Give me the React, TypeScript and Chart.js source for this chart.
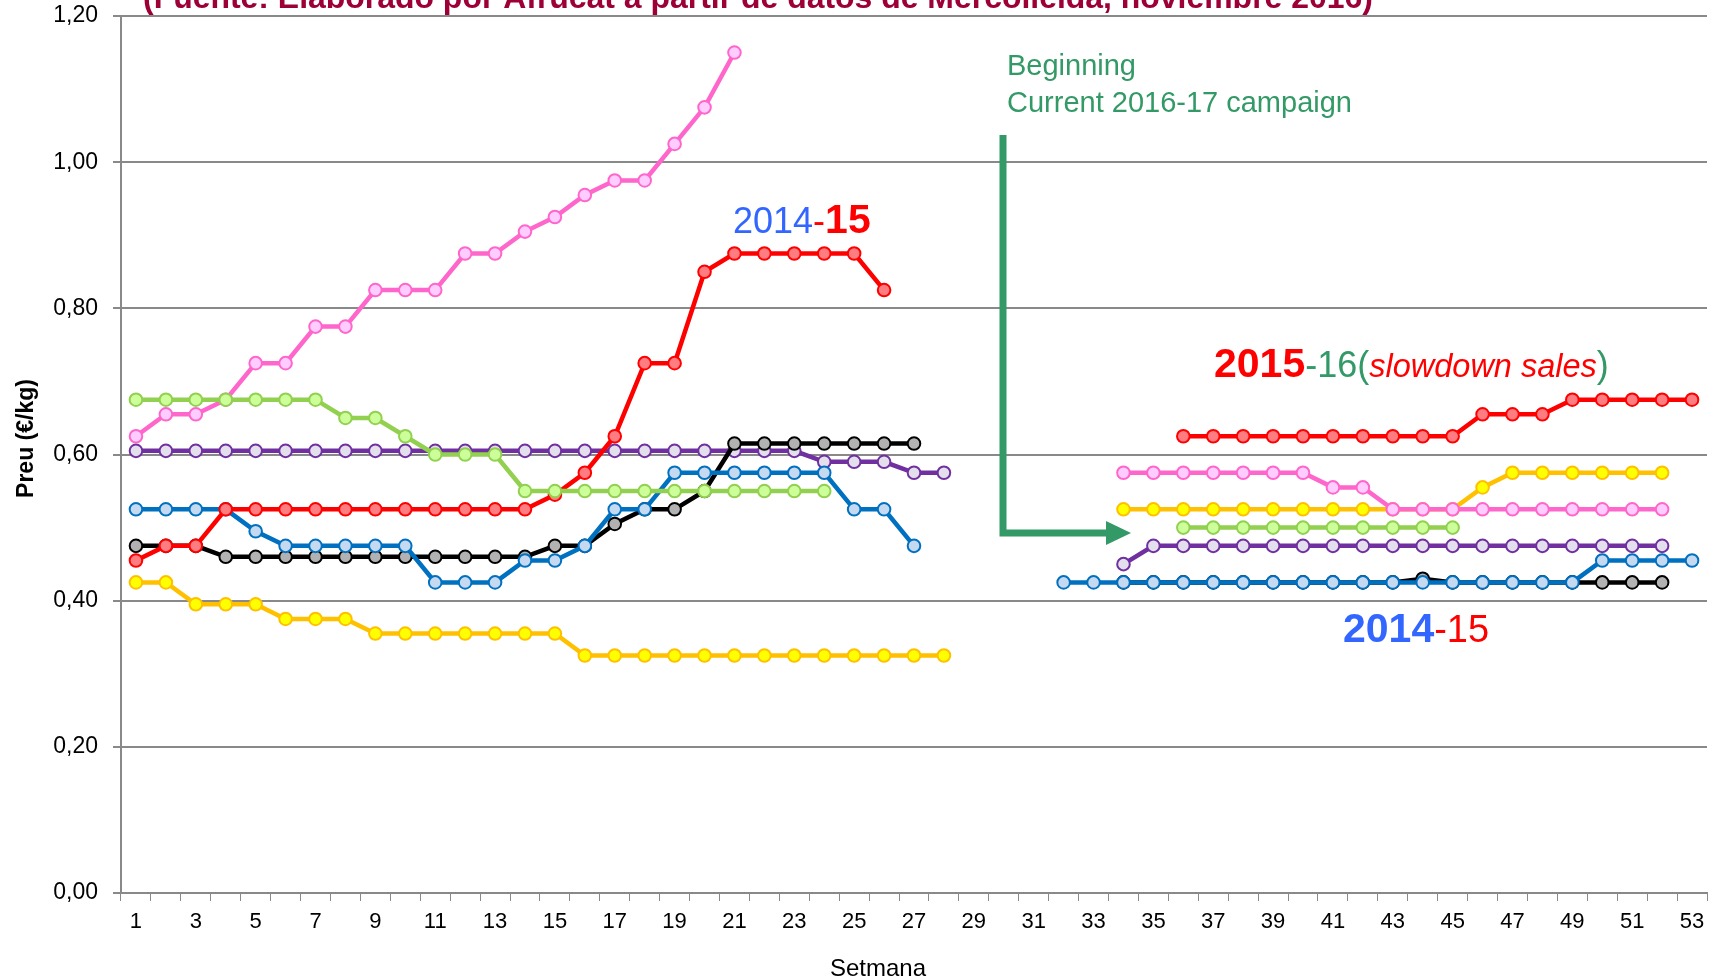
import React, { useEffect, useRef } from "react";
import { Chart, registerables } from "chart.js";

Chart.register(...registerables);

const FONT = '"Liberation Sans", Arial, Helvetica, sans-serif';

// Category axis: weeks
const weekLabels = [
  "1", "2", "3", "4", "5", "6", "7", "8", "9", "10",
  "11", "12", "13", "14", "15", "16", "17", "18", "19", "20",
  "21", "22", "23", "24", "25", "26", "27", "28", "29", "30",
  "31", "32", "33", "34", "35", "36", "37", "38", "39", "40",
  "41", "42", "43", "44", "45", "46", "47", "48", "49", "50",
  "51", "52", "53",
];

// Series values (€/kg). Each series: first part starting week 1, second part with its start week.
const pinkFirst = [0.625, 0.655, 0.655, 0.675, 0.725, 0.725, 0.775, 0.775, 0.825, 0.825, 0.825, 0.875, 0.875, 0.905, 0.925, 0.955, 0.975, 0.975, 1.025, 1.075, 1.15];
const pinkSecondStart = 34;
const pinkSecond = [0.575, 0.575, 0.575, 0.575, 0.575, 0.575, 0.575, 0.555, 0.555, 0.525, 0.525, 0.525, 0.525, 0.525, 0.525, 0.525, 0.525, 0.525, 0.525];

const redFirst = [0.455, 0.475, 0.475, 0.525, 0.525, 0.525, 0.525, 0.525, 0.525, 0.525, 0.525, 0.525, 0.525, 0.525, 0.545, 0.575, 0.625, 0.725, 0.725, 0.85, 0.875, 0.875, 0.875, 0.875, 0.875, 0.825];
const redSecondStart = 36;
const redSecond = [0.625, 0.625, 0.625, 0.625, 0.625, 0.625, 0.625, 0.625, 0.625, 0.625, 0.655, 0.655, 0.655, 0.675, 0.675, 0.675, 0.675, 0.675];

const greenFirst = [0.675, 0.675, 0.675, 0.675, 0.675, 0.675, 0.675, 0.65, 0.65, 0.625, 0.6, 0.6, 0.6, 0.55, 0.55, 0.55, 0.55, 0.55, 0.55, 0.55, 0.55, 0.55, 0.55, 0.55];
const greenSecondStart = 36;
const greenSecond = [0.5, 0.5, 0.5, 0.5, 0.5, 0.5, 0.5, 0.5, 0.5, 0.5];

const purpleFirst = [0.605, 0.605, 0.605, 0.605, 0.605, 0.605, 0.605, 0.605, 0.605, 0.605, 0.605, 0.605, 0.605, 0.605, 0.605, 0.605, 0.605, 0.605, 0.605, 0.605, 0.605, 0.605, 0.605, 0.59, 0.59, 0.59, 0.575, 0.575];
const purpleSecondStart = 34;
const purpleSecond = [0.45, 0.475, 0.475, 0.475, 0.475, 0.475, 0.475, 0.475, 0.475, 0.475, 0.475, 0.475, 0.475, 0.475, 0.475, 0.475, 0.475, 0.475, 0.475];

const blueFirst = [0.525, 0.525, 0.525, 0.525, 0.495, 0.475, 0.475, 0.475, 0.475, 0.475, 0.425, 0.425, 0.425, 0.455, 0.455, 0.475, 0.525, 0.525, 0.575, 0.575, 0.575, 0.575, 0.575, 0.575, 0.525, 0.525, 0.475];
const blueSecondStart = 32;
const blueSecond = [0.425, 0.425, 0.425, 0.425, 0.425, 0.425, 0.425, 0.425, 0.425, 0.425, 0.425, 0.425, 0.425, 0.425, 0.425, 0.425, 0.425, 0.425, 0.455, 0.455, 0.455, 0.455];

const blackFirst = [0.475, 0.475, 0.475, 0.46, 0.46, 0.46, 0.46, 0.46, 0.46, 0.46, 0.46, 0.46, 0.46, 0.46, 0.475, 0.475, 0.505, 0.525, 0.525, 0.55, 0.615, 0.615, 0.615, 0.615, 0.615, 0.615, 0.615];
const blackSecondStart = 34;
const blackSecond = [0.425, 0.425, 0.425, 0.425, 0.425, 0.425, 0.425, 0.425, 0.425, 0.425, 0.43, 0.425, 0.425, 0.425, 0.425, 0.425, 0.425, 0.425, 0.425];

const yellowFirst = [0.425, 0.425, 0.395, 0.395, 0.395, 0.375, 0.375, 0.375, 0.355, 0.355, 0.355, 0.355, 0.355, 0.355, 0.355, 0.325, 0.325, 0.325, 0.325, 0.325, 0.325, 0.325, 0.325, 0.325, 0.325, 0.325, 0.325, 0.325];
const yellowSecondStart = 34;
const yellowSecond = [0.525, 0.525, 0.525, 0.525, 0.525, 0.525, 0.525, 0.525, 0.525, 0.525, 0.525, 0.525, 0.555, 0.575, 0.575, 0.575, 0.575, 0.575, 0.575];

const TITLE = "(Fuente: Elaborado por Afrucat a partir de datos de Mercolleida, noviembre 2016)";

function place(first: number[], secondStart: number, second: number[]) {
  const arr: (number | null)[] = weekLabels.map(() => null);
  first.forEach((v, i) => (arr[i] = v));
  second.forEach((v, i) => (arr[secondStart - 1 + i] = v));
  return arr;
}

function series(label: string, data: (number | null)[], line: string, fill: string, order: number) {
  return {
    label,
    data,
    borderColor: line,
    backgroundColor: fill,
    pointBackgroundColor: fill,
    pointBorderColor: line,
    pointRadius: 6.3,
    pointBorderWidth: 2,
    borderWidth: 4.5,
    spanGaps: false,
    tension: 0,
    order,
  };
}

const GRID = "#898989";

const annotations = {
  id: "annotations",
  afterDraw(chart: any) {
    const ctx: CanvasRenderingContext2D = chart.ctx;
    ctx.save();
    ctx.textBaseline = "alphabetic";
    ctx.textAlign = "left";

    // Cropped title at top
    ctx.font = `bold 26px ${FONT}`;
    const w = ctx.measureText(TITLE).width;
    const size = (26 * 1230) / w;
    ctx.font = `bold ${size}px ${FONT}`;
    ctx.fillStyle = "#9C0037";
    ctx.fillText(TITLE, 143, 8);

    const runs = (x: number, y: number, parts: [string, string, string][]) => {
      for (const [t, f, c] of parts) {
        ctx.font = f;
        ctx.fillStyle = c;
        ctx.fillText(t, x, y);
        x += ctx.measureText(t).width;
      }
    };

    runs(733, 233, [
      ["2014", `36px ${FONT}`, "#3366FF"],
      ["-", `36px ${FONT}`, "#FF0000"],
      ["15", `bold 41px ${FONT}`, "#FF0000"],
    ]);

    runs(1214, 377, [
      ["2015", `bold 41px ${FONT}`, "#FF0000"],
      ["-16(", `36px ${FONT}`, "#339966"],
      ["slowdown sales", `italic 32.5px ${FONT}`, "#FF0000"],
      [")", `36px ${FONT}`, "#339966"],
    ]);

    runs(1343, 642, [
      ["2014", `bold 41px ${FONT}`, "#3366FF"],
      ["-15", `38px ${FONT}`, "#FF0000"],
    ]);

    ctx.font = `29px ${FONT}`;
    ctx.fillStyle = "#339966";
    ctx.fillText("Beginning", 1007, 75);
    ctx.fillText("Current 2016-17 campaign", 1007, 111.5);

    // Green elbow arrow
    ctx.strokeStyle = "#339966";
    ctx.lineWidth = 7;
    ctx.lineCap = "butt";
    ctx.beginPath();
    ctx.moveTo(1003, 135);
    ctx.lineTo(1003, 533);
    ctx.lineTo(1108, 533);
    ctx.stroke();
    ctx.fillStyle = "#339966";
    ctx.beginPath();
    ctx.moveTo(1106, 521);
    ctx.lineTo(1131, 533);
    ctx.lineTo(1106, 545);
    ctx.closePath();
    ctx.fill();

    // Axis titles
    ctx.fillStyle = "#000000";
    ctx.font = `24px ${FONT}`;
    ctx.textAlign = "center";
    ctx.fillText("Setmana", 878, 976);

    ctx.save();
    ctx.translate(33, 438.5);
    ctx.rotate(-Math.PI / 2);
    ctx.font = `bold 23px ${FONT}`;
    ctx.textAlign = "center";
    ctx.fillText("Preu (€/kg)", 0, 0);
    ctx.restore();

    ctx.restore();
  },
};

export default function App() {
  const ref = useRef<HTMLCanvasElement | null>(null);

  useEffect(() => {
    document.body.style.margin = "0";
    const canvas = ref.current;
    if (!canvas) return;
    const chart = new Chart(canvas, {
      type: "line",
      data: {
        labels: weekLabels,
        datasets: [
          series("green", place(greenFirst, greenSecondStart, greenSecond), "#92D050", "#CCFF99", 1),
          series("red", place(redFirst, redSecondStart, redSecond), "#FF0000", "#FF7C80", 2),
          series("blue", place(blueFirst, blueSecondStart, blueSecond), "#0070C0", "#C5D9F1", 3),
          series("black", place(blackFirst, blackSecondStart, blackSecond), "#000000", "#B2B2B2", 4),
          series("purple", place(purpleFirst, purpleSecondStart, purpleSecond), "#7030A0", "#E4DFEC", 5),
          series("pink", place(pinkFirst, pinkSecondStart, pinkSecond), "#FF66CC", "#FFCCFF", 6),
          series("yellow", place(yellowFirst, yellowSecondStart, yellowSecond), "#FFC000", "#FFFF00", 7),
        ],
      },
      options: {
        responsive: false,
        animation: false,
        devicePixelRatio: 1,
        layout: { padding: { top: 16, right: 13, left: 0, bottom: 0 } },
        plugins: {
          legend: { display: false },
          title: { display: false },
          tooltip: { enabled: false },
        },
        scales: {
          x: {
            type: "category",
            offset: true,
            afterFit: (s: any) => {
              s.height = 87;
              s.paddingLeft = 0;
              s.paddingRight = 0;
            },
            grid: {
              offset: true,
              drawOnChartArea: false,
              drawTicks: true,
              tickLength: 8,
              color: GRID,
              lineWidth: 1,
            },
            border: { display: true, color: GRID, width: 2 },
            ticks: {
              autoSkip: false,
              maxRotation: 0,
              minRotation: 0,
              padding: 8,
              color: "#000000",
              font: { family: FONT, size: 22 },
              callback: (_v: any, i: number) => (i % 2 === 0 ? weekLabels[i] : ""),
            },
          },
          y: {
            min: 0,
            max: 1.2,
            afterFit: (s: any) => {
              s.width = 121;
              s.paddingTop = 0;
              s.paddingBottom = 0;
            },
            grid: {
              color: GRID,
              lineWidth: 2,
              drawTicks: true,
              tickLength: 8,
            },
            border: { display: true, color: GRID, width: 2 },
            ticks: {
              stepSize: 0.2,
              padding: 15,
              color: "#000000",
              font: { family: FONT, size: 23 },
              callback: (v: any) => Number(v).toFixed(2).replace(".", ","),
            },
          },
        },
      },
      plugins: [annotations],
    });
    return () => chart.destroy();
  }, []);

  return (
    <div style={{ position: "absolute", left: 0, top: 0, width: 1720, height: 980, background: "#ffffff" }}>
      <canvas ref={ref} width={1720} height={980} style={{ display: "block", width: 1720, height: 980 }} />
    </div>
  );
}
